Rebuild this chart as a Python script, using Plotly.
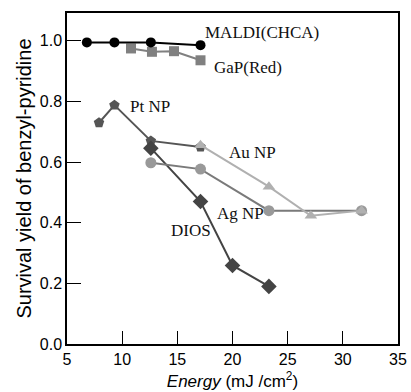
import plotly.graph_objects as go

# ---- data ----
maldi_x = [6.8, 9.3, 12.6, 17.1]
maldi_y = [0.995, 0.995, 0.995, 0.986]

gap_x = [10.8, 12.7, 14.7, 17.1]
gap_y = [0.975, 0.964, 0.966, 0.936]

pt_x = [7.9, 9.3, 12.6, 17.1]
pt_y = [0.73, 0.788, 0.67, 0.65]

dios_x = [12.6, 17.1, 20.0, 23.3]
dios_y = [0.646, 0.47, 0.259, 0.19]

ag_x = [12.6, 17.1, 23.3, 31.7]
ag_y = [0.598, 0.577, 0.44, 0.44]

au_x = [17.1, 23.3, 27.1, 31.7]
au_y = [0.656, 0.519, 0.423, 0.44]

x_ticks = [5, 10, 15, 20, 25, 30, 35]
y_ticks = [0.0, 0.2, 0.4, 0.6, 0.8, 1.0]

labels = ["MALDI(CHCA)", "GaP(Red)", "Pt NP", "Au NP", "Ag NP", "DIOS"]
label_x = [17.33, 18.13, 10.53, 19.48, 18.4, 14.24]
label_y = [1.029, 0.913, 0.785, 0.633, 0.432, 0.376]

fig = go.Figure()

def add(x, y, lc, mc, sym, size):
    fig.add_trace(go.Scatter(x=x, y=y, mode="lines+markers",
                             line=dict(color=lc, width=2),
                             marker=dict(color=mc, symbol=sym, size=size),
                             showlegend=False))

add(pt_x, pt_y, "#555555", "#555555", "pentagon", 11)
add(dios_x, dios_y, "#444444", "#444444", "diamond", 12)
add(ag_x, ag_y, "#7a7a7a", "#999999", "circle", 11)
add(au_x, au_y, "#b0b0b0", "#b0b0b0", "triangle-up", 11)
add(gap_x, gap_y, "#808080", "#808080", "square", 10)
add(maldi_x, maldi_y, "#000000", "#000000", "circle", 10)

for t, xx, yy in zip(labels, label_x, label_y):
    fig.add_annotation(x=xx, y=yy, text=t, xref="x", yref="y", showarrow=False,
                       xanchor="left", yanchor="middle",
                       font=dict(family="Liberation Serif", size=17, color="#111"))

fig.update_layout(
    width=411, height=392,
    margin=dict(l=67, r=13, t=13, b=48),
    paper_bgcolor="white", plot_bgcolor="white",
    font=dict(family="Liberation Sans", color="#000"),
    xaxis=dict(range=[5, 35], tickvals=x_ticks, ticks="inside", ticklen=13,
               tickcolor="#000", tickwidth=1.3, showline=True, linecolor="#000",
               linewidth=1.5, mirror=True, showgrid=False, zeroline=False,
               tickfont=dict(size=16), automargin=False,
               title=dict(text="<i>Energy</i> (mJ /cm<sup>2</sup>)",
                          font=dict(size=17), standoff=8)),
    yaxis=dict(range=[0, 1.092], tickvals=y_ticks, tickformat=".1f",
               ticks="inside", ticklen=14, tickcolor="#000", tickwidth=1.3,
               showline=True, linecolor="#000", linewidth=1.5, mirror=True,
               showgrid=False, zeroline=False, tickfont=dict(size=16),
               automargin=False,
               title=dict(text="Survival yield of benzyl-pyridine",
                          font=dict(size=20), standoff=3)),
)

fig.write_html("out.html", config={"displayModeBar": False},
               post_script="document.body.style.margin='0';document.body.style.overflow='hidden';")
